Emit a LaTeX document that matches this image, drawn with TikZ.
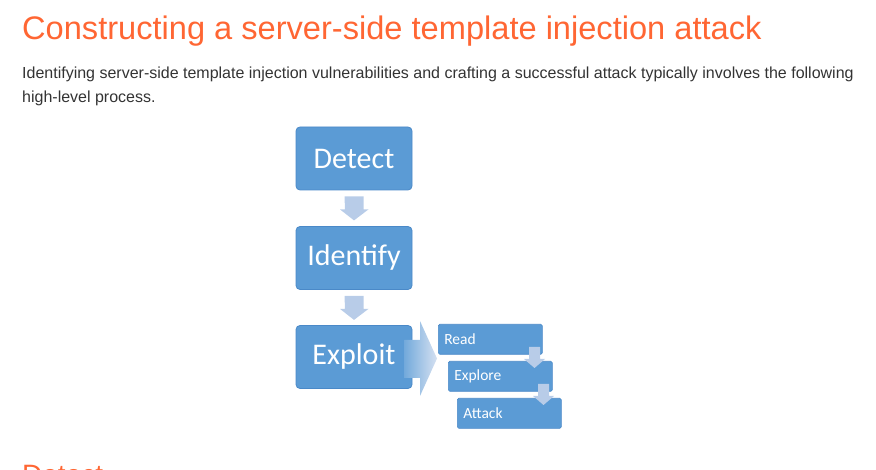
\documentclass[tikz,border=0pt]{standalone}
\usepackage{fontspec}
\setmainfont{Liberation Sans}
\newfontfamily\boxfont{Carlito}
\definecolor{headorange}{HTML}{FF6633}
\definecolor{bodytext}{HTML}{333333}
\definecolor{stepfill}{HTML}{5B9BD5}
\definecolor{stepline}{HTML}{4A89C8}
\definecolor{arrowfill}{HTML}{B8CCE8}
\begin{document}
\begin{tikzpicture}[x=1pt,y=-1pt,
  bigstep/.style={draw=stepline, line width=0.8pt, fill=stepfill, rounded corners=4pt,
    minimum width=116pt, minimum height=63pt, inner sep=0pt, text=white,
    font=\boxfont\fontsize{30}{32}\selectfont},
  substep/.style={draw=stepline, line width=0.6pt, fill=stepfill, rounded corners=1.5pt,
    minimum width=104pt, minimum height=30pt, inner sep=0pt, text=white,
    font=\boxfont\fontsize{15.5}{17}\selectfont},
  downarrow/.style={fill=arrowfill, draw=none},
  heading/.style={anchor=base west, inner sep=0pt, text=headorange},
  bodyline/.style={anchor=base west, inner sep=0pt, text=bodytext,
    font=\fontsize{16}{19}\selectfont}]
\useasboundingbox (0,0) rectangle (876,470);
\clip (0,0) rectangle (876,470);

% page headings and introduction
\node[heading, font=\fontsize{32.6}{36}\selectfont] (title) at (22,40)
  {Constructing a server-side template injection attack};
\node[bodyline] (para1) at (22,79) {Identifying server-side template injection vulnerabilities and crafting a successful attack typically involves the following};
\node[bodyline] (para2) at (22,103) {high-level process.};
\node[heading, font=\fontsize{28}{32}\selectfont] (nexthead) at (22,484) {Detect};

% main process steps
\node[bigstep] (detect) at (354,158.5) {Detect};
\node[bigstep] (identify) at (354,258) {Identify};
\node[bigstep] (exploit) at (354,357) {Exploit};

% block arrows between the main steps
\fill[downarrow] ([xshift=-9.5pt,yshift=-6pt]detect.south) -- ++(19,0) -- ++(0,13) -- ++(5,0)
  -- ([yshift=-30pt]detect.south) -- ++(-14,-11) -- ++(5,0) -- cycle;
\fill[downarrow] ([xshift=-9.5pt,yshift=-6pt]identify.south) -- ++(19,0) -- ++(0,13) -- ++(5,0)
  -- ([yshift=-30pt]identify.south) -- ++(-14,-11) -- ++(5,0) -- cycle;

% exploit sub-steps
\node[substep, anchor=north west, text width=92pt, align=left] (read) at (438,324) {Read};
\node[substep, anchor=north west, text width=92pt, align=left] (explore) at (448,361) {Explore};
\node[substep, anchor=north west, text width=92pt, align=left] (attack) at (457,398) {Attack};

% wide arrow leading from Exploit to its sub-steps
\shade[left color=stepfill!85!white, right color=arrowfill!60!white]
  ([xshift=-8pt]exploit.east |- 0,340) -- (420,340) -- (420,321) -- (437,358.5) -- (420,396) -- (420,378)
  -- ([xshift=-8pt]exploit.east |- 0,378) -- cycle;

% small arrows between sub-steps
\fill[downarrow] (529,347) -- (540,347) -- (540,359) -- (545,359) -- (534.5,368) -- (524,359)
  -- (529,359) -- cycle;
\fill[downarrow] (538,384) -- (549,384) -- (549,396) -- (554,396) -- (543.5,405) -- (533,396)
  -- (538,396) -- cycle;
\end{tikzpicture}
\end{document}
